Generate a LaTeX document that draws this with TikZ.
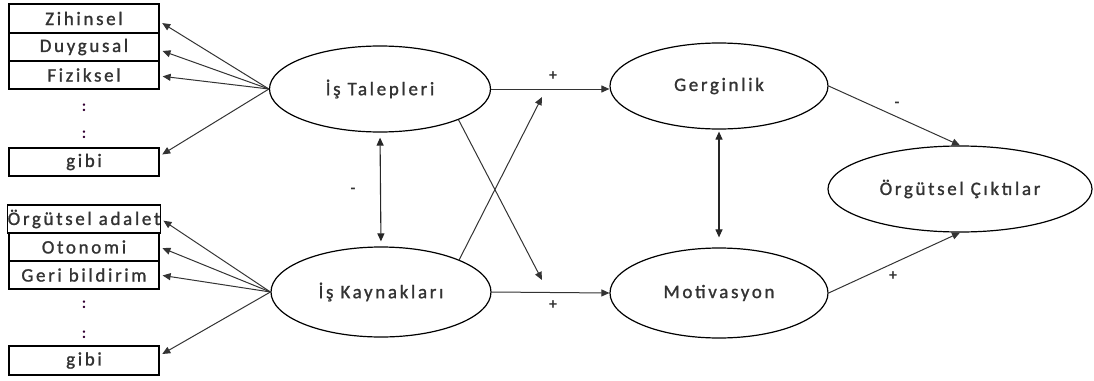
\documentclass[tikz,border=0pt]{standalone}
\usepackage{fontspec}
\setmainfont{Carlito}
\newfontfamily\labfont{Carlito}[LetterSpace=14,FakeBold=1.2]
\usetikzlibrary{shapes.geometric,arrows.meta}
\begin{document}
\begin{tikzpicture}[x=1pt,y=-1pt,
  ell/.style={draw=black,line width=1.2pt,ellipse,inner sep=0pt,font=\labfont\fontsize{19}{21}\selectfont,text=black!80},
  boxnode/.style={draw=black,line width=1.3pt,rectangle,minimum width=150pt,inner sep=0pt,font=\labfont\fontsize{19}{21}\selectfont,text=black!80},
  arr/.style={draw=black!80,line width=1pt,-{Triangle[length=8pt,width=7pt]}},
  darr/.style={draw=black!85,line width=1.1pt,{Triangle[length=8pt,width=7pt]}-{Triangle[length=8pt,width=7pt]}},
  sign/.style={font=\bfseries\fontsize{16}{18}\selectfont,text=black!80},
  dots/.style={font=\bfseries\fontsize{16}{18}\selectfont,text=black!60!violet}
]
\useasboundingbox (0,0) rectangle (1094,380);
% left boxes, upper group
\node[boxnode,minimum height=29pt] (z1) at (84,18.5) {Zihinsel};
\node[boxnode,minimum height=28pt] (z2) at (84,47) {Duygusal};
\node[boxnode,minimum height=28pt] (z3) at (84,75) {Fiziksel};
\node[dots] (zd1) at (84,108) {:};
\node[dots] (zd2) at (84,135) {:};
\node[boxnode,minimum height=28pt] (zg) at (84,162) {gibi};
% left boxes, lower group
\node[boxnode,minimum height=28pt] (k1) at (84,219) {Örgütsel adalet};
\node[boxnode,minimum height=28pt] (k2) at (84,247) {Otonomi};
\node[boxnode,minimum height=28pt] (k3) at (84,275) {Geri bildirim};
\node[dots] (kd1) at (84,305) {:};
\node[dots] (kd2) at (84,335) {:};
\node[boxnode,minimum height=29pt] (kg) at (84,360.5) {gibi};
% ellipses
\node[ell,minimum width=221pt,minimum height=86pt] (tal) at (380,89) {İş Talepleri};
\node[ell,minimum width=220pt,minimum height=90pt] (kay) at (381,292) {İş Kaynakları};
\node[ell,minimum width=218pt,minimum height=86pt] (ger) at (719,86) {Gerginlik};
\node[ell,minimum width=218pt,minimum height=90pt] (mot) at (719,293) {Motivasyon};
\node[ell,minimum width=264pt,minimum height=86pt] (org) at (960,189) {Örgütsel Çıktılar};
% free ends of crossing arrows
\coordinate (c1) at (542,280);
\coordinate (c2) at (542,97);
% arrows to the left boxes
\draw[arr,shorten >=3pt] (tal.west) -- ([yshift=-3pt]z1.east);
\draw[arr,shorten >=3pt] (tal.west) -- ([yshift=-3pt]z2.east);
\draw[arr,shorten >=3pt] (tal.west) -- ([yshift=-1pt]z3.east);
\draw[arr,shorten >=3pt] (tal.west) -- ([yshift=6pt]zg.east);
\draw[arr,shorten >=3pt] (kay.west) -- (k1.east);
\draw[arr,shorten >=3pt] (kay.west) -- (k2.east);
\draw[arr,shorten >=3pt] (kay.west) -- (k3.east);
\draw[arr,shorten >=3pt] (kay.west) -- ([yshift=5pt]kg.east);
% main arrows
\draw[arr] (tal.east) -- (ger.west |- tal.east);
\draw[arr] (kay.east) -- (mot.west);
\draw[arr] (tal.south east) -- (c1);
\draw[arr] (kay.north east) -- (c2);
\draw[darr,shorten <=5pt,shorten >=5pt] (tal.south) -- (kay.north);
\draw[darr,shorten <=2pt,shorten >=10pt] (ger.south) -- (mot.north);
\draw[arr] (ger.east) -- (org.north);
\draw[arr] (mot.east) -- (org.south);
% signs
\node[sign] (s1) at (553,76) {+};
\node[sign] (s2) at (553,305) {+};
\node[sign] (s3) at (353,191) {-};
\node[sign] (s4) at (897,105) {-};
\node[sign] (s5) at (893,276) {+};
\end{tikzpicture}
\end{document}
